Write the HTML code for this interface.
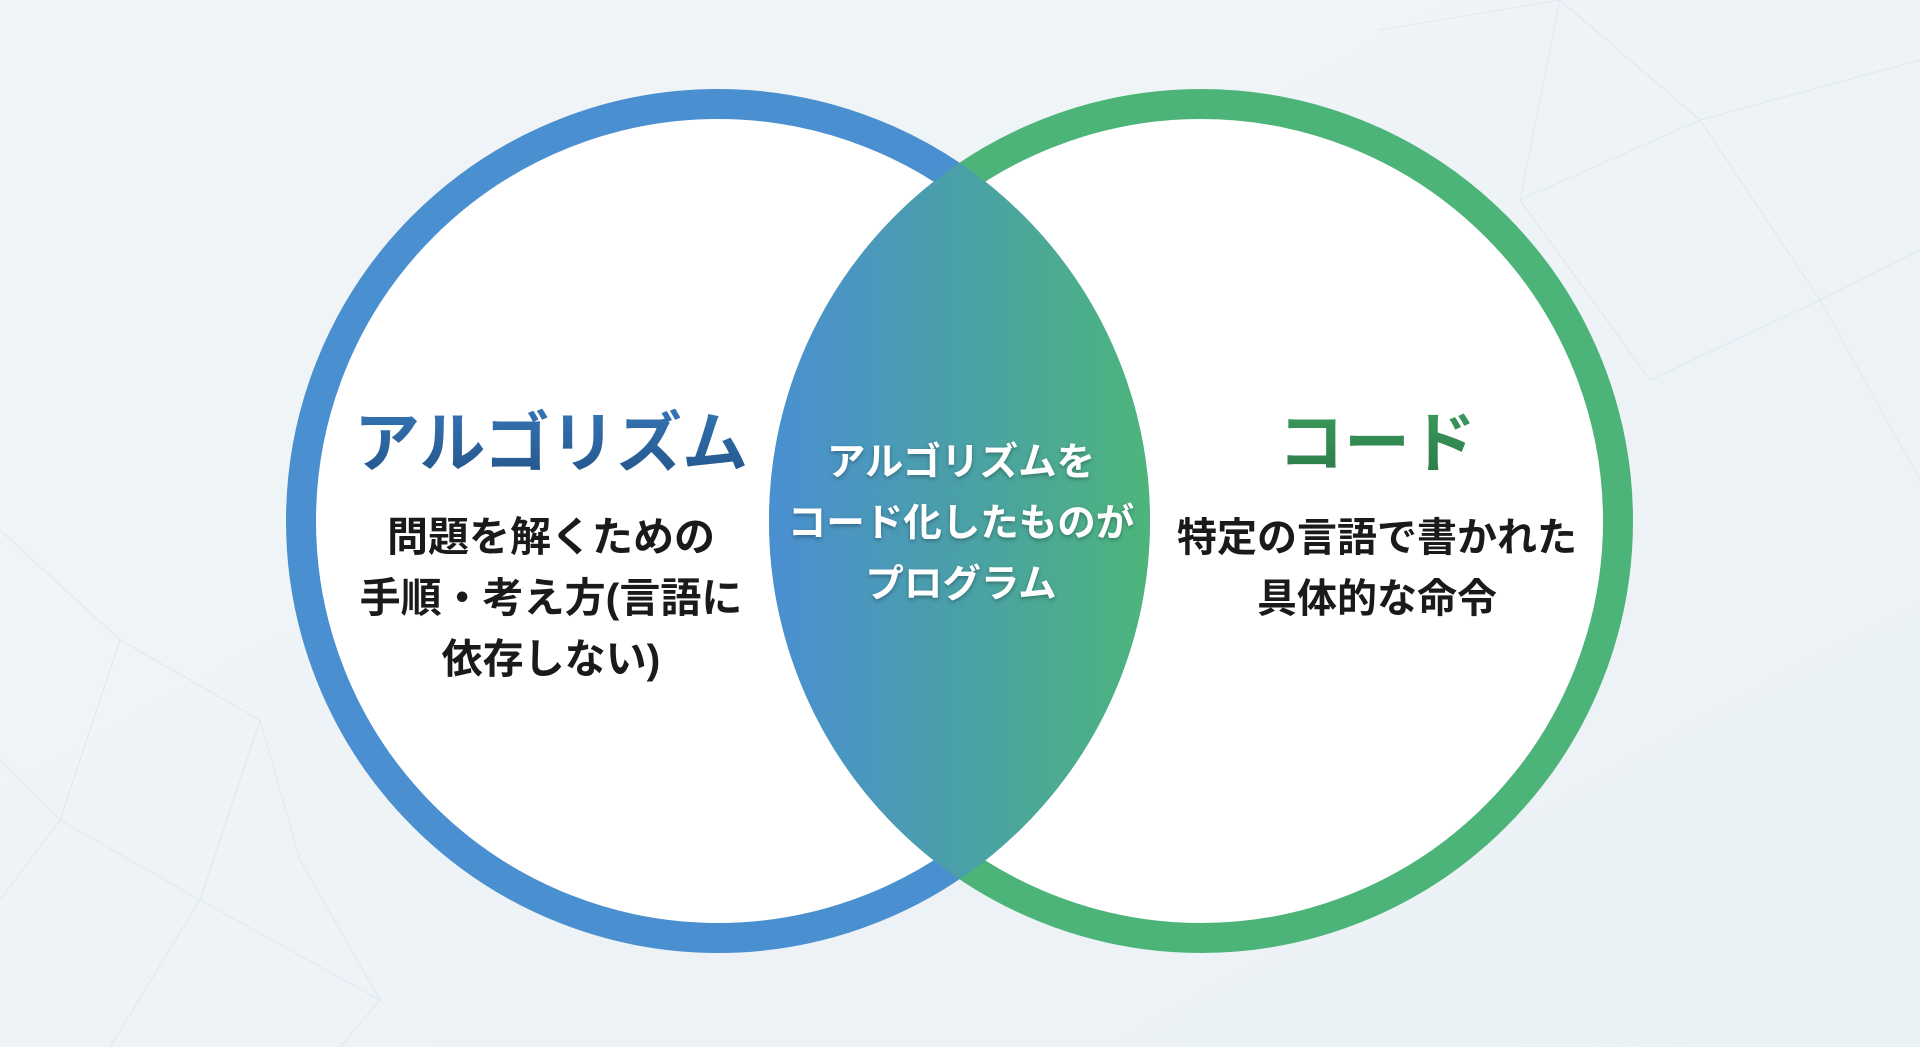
<!DOCTYPE html>
<html><head><meta charset="utf-8"><style>
html,body{margin:0;padding:0;width:1920px;height:1047px;overflow:hidden;background:#eef3f6}
svg{position:absolute;left:0;top:0}
text{font-family:"Liberation Sans","Noto Sans CJK JP",sans-serif;font-weight:bold;text-anchor:middle}
</style></head><body>
<svg width="1920" height="1047" viewBox="0 0 1920 1047">
<defs>
<linearGradient id="bg" x1="0" y1="0" x2="1" y2="1"><stop offset="0" stop-color="#f1f5f8"/><stop offset="1" stop-color="#eaf1f5"/></linearGradient>
<linearGradient id="lens" x1="770" y1="0" x2="1150" y2="0" gradientUnits="userSpaceOnUse"><stop offset="0" stop-color="#4a8fd2"/><stop offset="0.5" stop-color="#4aa0a8"/><stop offset="1" stop-color="#4db57a"/></linearGradient>
<linearGradient id="tg" x1="0" y1="0" x2="0" y2="1"><stop offset="0" stop-color="#3575b5"/><stop offset="1" stop-color="#24548a"/></linearGradient>
<linearGradient id="tg2" x1="0" y1="0" x2="0" y2="1"><stop offset="0" stop-color="#3c9a5c"/><stop offset="1" stop-color="#2a7a48"/></linearGradient>
<clipPath id="cl"><circle cx="718" cy="521" r="432"/></clipPath>
<filter id="sh"><feDropShadow dx="0" dy="2" stdDeviation="2" flood-color="#000" flood-opacity="0.3"/></filter>
</defs>
<rect width="1920" height="1047" fill="url(#bg)"/>
<g stroke="#dde6ec" stroke-width="1.2" fill="none" opacity="0.7">
<polyline points="1380,30 1560,0 1700,120 1920,60"/>
<polyline points="1560,0 1520,200 1700,120 1820,300 1920,250"/>
<polyline points="1520,200 1650,380 1820,300 1920,480"/>
<polyline points="0,530 120,640 60,820 200,900 110,1047"/>
<polyline points="120,640 260,720 200,900 380,1000 340,1047"/>
<polyline points="0,760 60,820 0,900"/>
<polyline points="260,720 300,860 380,1000"/>
</g>
<circle cx="718" cy="521" r="417" fill="#fff"/>
<circle cx="1201" cy="521" r="417" fill="#fff"/>
<circle cx="718" cy="521" r="417" fill="none" stroke="#4a8fd0" stroke-width="30"/>
<circle cx="1201" cy="521" r="417" fill="none" stroke="#4db479" stroke-width="30"/>
<circle cx="1201" cy="521" r="432" fill="url(#lens)" clip-path="url(#cl)"/>
<text x="551" y="466" font-size="66" fill="url(#tg)">アルゴリズム</text>
<g font-size="41" fill="#1a1a1a">
<text x="551" y="551">問題を解くための</text>
<text x="551" y="612">手順・考え方(言語に</text>
<text x="551" y="673">依存しない)</text>
</g>
<text x="1377" y="466" font-size="66" fill="url(#tg2)">コード</text>
<g font-size="40" fill="#1a1a1a">
<text x="1377" y="551">特定の言語で書かれた</text>
<text x="1377" y="612">具体的な命令</text>
</g>
<g font-size="38.5" fill="#fff" filter="url(#sh)">
<text x="961" y="475">アルゴリズムを</text>
<text x="961" y="536">コード化したものが</text>
<text x="961" y="597">プログラム</text>
</g>
</svg>
</body></html>
